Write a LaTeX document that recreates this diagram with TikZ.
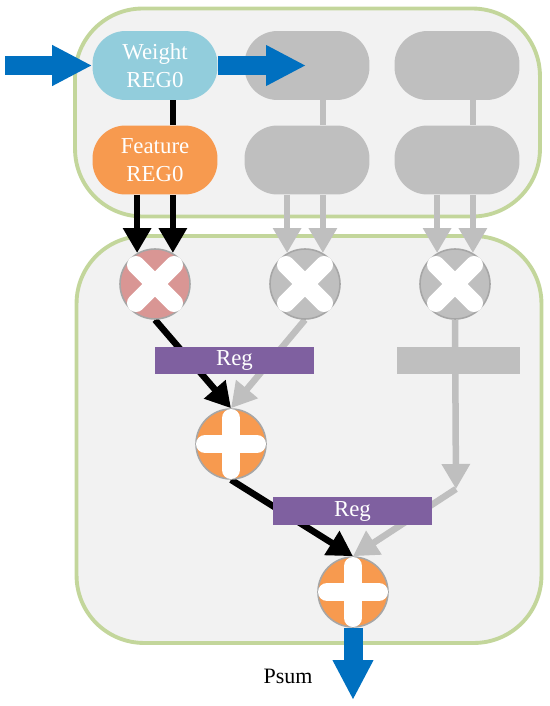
\documentclass[tikz,border=0pt]{standalone}
\usepackage{fontspec}
\setmainfont{Liberation Serif}
\usetikzlibrary{arrows.meta,backgrounds}

\definecolor{panelfill}{HTML}{F2F2F2}
\definecolor{panelline}{HTML}{C3D69B}
\definecolor{weightblue}{HTML}{92CDDC}
\definecolor{featorange}{HTML}{F79A4F}
\definecolor{mulred}{HTML}{D99694}
\definecolor{idlegray}{HTML}{BFBFBF}
\definecolor{ringgray}{HTML}{A6A6A6}
\definecolor{regpurple}{HTML}{7F60A0}
\definecolor{flowblue}{HTML}{0070C0}

\tikzset{
  panel/.style={draw=panelline, fill=panelfill, line width=2.2pt, rounded corners=1.35cm, minimum width=9.3cm},
  regbox/.style={fill=#1, text=white, align=center, minimum width=2.5cm, minimum height=1.38cm, rounded corners=0.66cm, inner sep=0pt, font=\fontsize{13}{16}\selectfont},
  regbar/.style={fill=#1, text=white, minimum height=0.55cm, inner sep=0pt, font=\fontsize{13}{16}\selectfont},
  opnode/.style={circle, draw=ringgray, fill=#1, line width=0.9pt, minimum size=1.4cm, inner sep=0pt},
  opmark/.style={white, line width=0.36cm, line cap=round},
  flow/.style={-{Triangle[length=0.8cm,width=0.76cm]}, flowblue, line width=0.38cm},
  wire/.style={#1, line width=0.13cm},
  wirearrow/.style={#1, line width=0.13cm, -{Triangle[length=0.5cm,width=0.54cm]}},
}

\begin{document}
\begin{tikzpicture}[x=0.02cm, y=-0.02cm]
  \useasboundingbox (0,0) rectangle (550,706);

  \node[regbox=weightblue] (weight) at (155,65.5) {Weight\\REG0};
  \node[regbox=idlegray] (weightB) at (307,65.5) {};
  \node[regbox=idlegray] (weightC) at (457,65.5) {};
  \node[regbox=featorange] (feature) at (155,160) {Feature\\REG0};
  \node[regbox=idlegray] (featureB) at (307,160) {};
  \node[regbox=idlegray] (featureC) at (457,160) {};

  \node[opnode=mulred] (mulA) at (155,284) {};
  \node[opnode=idlegray] (mulB) at (305,284) {};
  \node[opnode=idlegray] (mulC) at (455,284) {};
  \node[opnode=featorange] (addA) at (231,444) {};
  \node[opnode=featorange] (addB) at (353,592) {};

  \node[regbar=regpurple, minimum width=3.18cm] (regA) at (234.5,360.5) {Reg};
  \node[regbar=idlegray, minimum width=2.46cm] (regB) at (458.5,360.5) {};
  \node[regbar=regpurple, minimum width=3.18cm] (regC) at (352.5,511) {Reg};

  \coordinate (inStart) at (5,65.5);
  \coordinate (outTip) at (353,700);
  \coordinate (passTip) at (306,65.5);
  \coordinate (grayBend) at (456,489);

  \node[font=\fontsize{12.5}{16}\selectfont] (psum) at (288,676) {Psum};

  \begin{scope}[on background layer]
    \node[panel, minimum height=4.16cm] (topPanel) at (307.5,112.5) {};
    \node[panel, minimum height=8.14cm] (bottomPanel) at (309,439.5) {};

    \draw[wire=black] (weight.south -| mulA.60) -- (feature.north -| mulA.60);
    \draw[wire=idlegray] (weightB.south -| mulB.60) -- (featureB.north -| mulB.60);
    \draw[wire=idlegray] (weightC.south -| mulC.60) -- (featureC.north -| mulC.60);

    \draw[wirearrow=black] (mulA.south) -- (addA.north);
    \draw[wirearrow=idlegray] (mulB.south) -- (addA.north);
    \draw[wirearrow=idlegray] (mulC.south) -- (grayBend);
    \draw[wirearrow=idlegray] (grayBend) -- (addB.north);
    \draw[wirearrow=black] (addA.south) -- (addB.north);
  \end{scope}

  \draw[wirearrow=black] (feature.south -| mulA.120) -- (mulA.120);
  \draw[wirearrow=black] (feature.south -| mulA.60) -- (mulA.60);
  \draw[wirearrow=idlegray] (featureB.south -| mulB.120) -- (mulB.120);
  \draw[wirearrow=idlegray] (featureB.south -| mulB.60) -- (mulB.60);
  \draw[wirearrow=idlegray] (featureC.south -| mulC.120) -- (mulC.120);
  \draw[wirearrow=idlegray] (featureC.south -| mulC.60) -- (mulC.60);

  \foreach \n in {mulA,mulB,mulC} {
    \draw[opmark] ([shift={(-19,-19)}]\n.center) -- ([shift={(19,19)}]\n.center);
    \draw[opmark] ([shift={(-19,19)}]\n.center) -- ([shift={(19,-19)}]\n.center);
  }
  \foreach \n in {addA,addB} {
    \draw[opmark] ([shift={(0,-26)}]\n.center) -- ([shift={(0,26)}]\n.center);
    \draw[opmark] ([shift={(-26,0)}]\n.center) -- ([shift={(26,0)}]\n.center);
  }

  \draw[flow] (inStart) -- (weight.west);
  \draw[flow] (weight.east) -- (passTip);
  \draw[flow] (addB.south) -- (outTip);
\end{tikzpicture}
\end{document}
